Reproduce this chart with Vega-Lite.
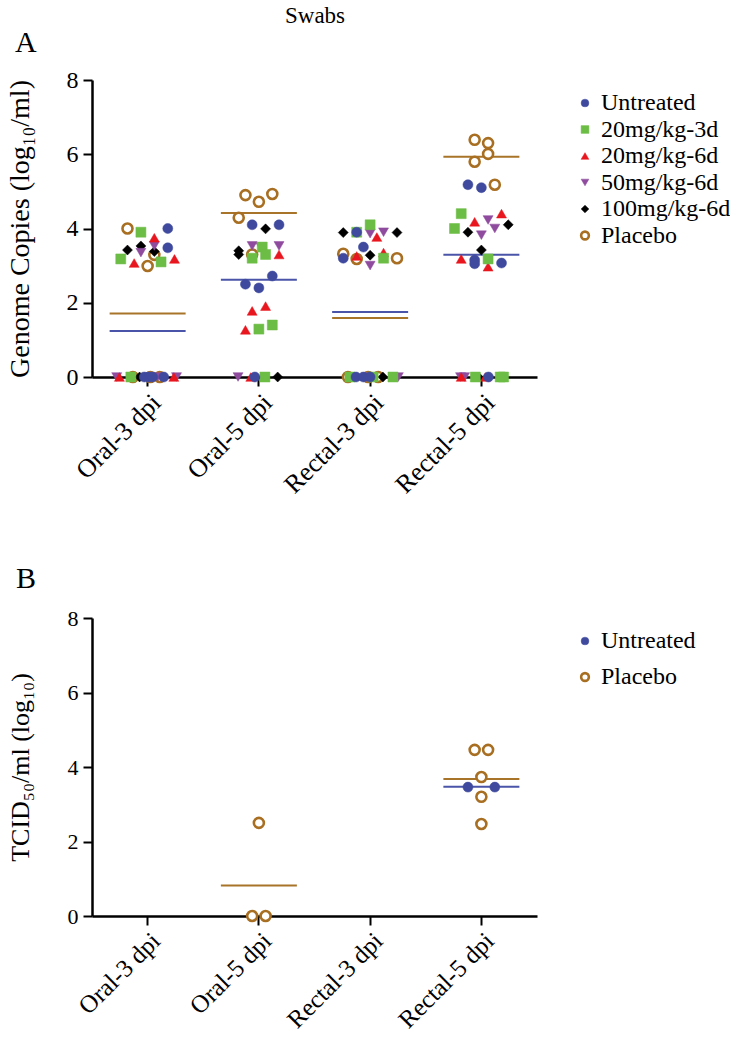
{
  "$schema": "https://vega.github.io/schema/vega-lite/v6.json",
  "config": {
    "font": "Liberation Serif",
    "view": {"stroke": null},
    "axis": {"labelFont": "Liberation Serif", "titleFont": "Liberation Serif", "domainColor": "black", "tickColor": "black", "labelColor": "black", "titleColor": "black", "grid": false, "titleFontWeight": "normal", "domainWidth": 2.5, "tickWidth": 2, "tickSize": 9},
    "legend": {"labelFont": "Liberation Serif", "labelColor": "black"},
    "title": {"font": "Liberation Serif", "fontWeight": "normal", "color": "black"}
  },
  "title": {"text": "Swabs", "fontSize": 23, "anchor": "start", "dx": 279, "offset": 0},
  "spacing": 66,
  "resolve": {
    "scale": {"shape": "independent", "fill": "independent", "stroke": "independent", "strokeWidth": "independent", "color": "independent"},
    "legend": {"shape": "independent", "fill": "independent", "stroke": "independent", "strokeWidth": "independent", "color": "independent"}
  },
  "datasets": {
    "a_points": [
      {"cat": "Oral-3 dpi", "group": "Placebo", "j": -3, "v": 4.0},
      {"cat": "Oral-3 dpi", "group": "Placebo", "j": 1, "v": 3.29},
      {"cat": "Oral-3 dpi", "group": "Placebo", "j": 0, "v": 2.99},
      {"cat": "Oral-3 dpi", "group": "Placebo", "j": -2.2, "v": 0},
      {"cat": "Oral-3 dpi", "group": "Placebo", "j": 1.8, "v": 0},
      {"cat": "Oral-3 dpi", "group": "Placebo", "j": 0.4, "v": 0},
      {"cat": "Oral-3 dpi", "group": "100mg/kg-6d", "j": -3, "v": 3.42},
      {"cat": "Oral-3 dpi", "group": "100mg/kg-6d", "j": -1, "v": 3.53},
      {"cat": "Oral-3 dpi", "group": "100mg/kg-6d", "j": 1, "v": 3.38},
      {"cat": "Oral-3 dpi", "group": "100mg/kg-6d", "j": -1.2, "v": 0},
      {"cat": "Oral-3 dpi", "group": "50mg/kg-6d", "j": -1, "v": 3.35},
      {"cat": "Oral-3 dpi", "group": "50mg/kg-6d", "j": 1, "v": 3.53},
      {"cat": "Oral-3 dpi", "group": "50mg/kg-6d", "j": -4.6, "v": 0},
      {"cat": "Oral-3 dpi", "group": "50mg/kg-6d", "j": 1.5, "v": 0},
      {"cat": "Oral-3 dpi", "group": "50mg/kg-6d", "j": 4.3, "v": 0},
      {"cat": "Oral-3 dpi", "group": "20mg/kg-6d", "j": 1, "v": 3.75},
      {"cat": "Oral-3 dpi", "group": "20mg/kg-6d", "j": -2, "v": 3.07},
      {"cat": "Oral-3 dpi", "group": "20mg/kg-6d", "j": 4, "v": 3.18},
      {"cat": "Oral-3 dpi", "group": "20mg/kg-6d", "j": -4.2, "v": 0},
      {"cat": "Oral-3 dpi", "group": "20mg/kg-6d", "j": 3.9, "v": 0},
      {"cat": "Oral-3 dpi", "group": "20mg/kg-3d", "j": -1, "v": 3.9},
      {"cat": "Oral-3 dpi", "group": "20mg/kg-3d", "j": -4, "v": 3.18},
      {"cat": "Oral-3 dpi", "group": "20mg/kg-3d", "j": 2, "v": 3.1},
      {"cat": "Oral-3 dpi", "group": "20mg/kg-3d", "j": -2.5, "v": 0},
      {"cat": "Oral-3 dpi", "group": "Untreated", "j": 3, "v": 4.0},
      {"cat": "Oral-3 dpi", "group": "Untreated", "j": 3, "v": 3.48},
      {"cat": "Oral-3 dpi", "group": "Untreated", "j": -0.5, "v": 0},
      {"cat": "Oral-3 dpi", "group": "Untreated", "j": 0.15, "v": 0},
      {"cat": "Oral-3 dpi", "group": "Untreated", "j": 0.75, "v": 0},
      {"cat": "Oral-3 dpi", "group": "Untreated", "j": 2.4, "v": 0},

      {"cat": "Oral-5 dpi", "group": "Placebo", "j": -2, "v": 4.9},
      {"cat": "Oral-5 dpi", "group": "Placebo", "j": 0, "v": 4.72},
      {"cat": "Oral-5 dpi", "group": "Placebo", "j": 2, "v": 4.93},
      {"cat": "Oral-5 dpi", "group": "Placebo", "j": -3, "v": 4.29},
      {"cat": "Oral-5 dpi", "group": "Placebo", "j": -1, "v": 3.3},
      {"cat": "Oral-5 dpi", "group": "100mg/kg-6d", "j": 1, "v": 3.99},
      {"cat": "Oral-5 dpi", "group": "100mg/kg-6d", "j": -3, "v": 3.4},
      {"cat": "Oral-5 dpi", "group": "100mg/kg-6d", "j": -3, "v": 3.3},
      {"cat": "Oral-5 dpi", "group": "100mg/kg-6d", "j": 2.8, "v": 0},
      {"cat": "Oral-5 dpi", "group": "50mg/kg-6d", "j": -1, "v": 3.53},
      {"cat": "Oral-5 dpi", "group": "50mg/kg-6d", "j": 3, "v": 3.53},
      {"cat": "Oral-5 dpi", "group": "50mg/kg-6d", "j": 0.3, "v": 3.5},
      {"cat": "Oral-5 dpi", "group": "50mg/kg-6d", "j": -3.1, "v": 0},
      {"cat": "Oral-5 dpi", "group": "20mg/kg-6d", "j": 3, "v": 3.3},
      {"cat": "Oral-5 dpi", "group": "20mg/kg-6d", "j": -1, "v": 1.78},
      {"cat": "Oral-5 dpi", "group": "20mg/kg-6d", "j": 1, "v": 1.91},
      {"cat": "Oral-5 dpi", "group": "20mg/kg-6d", "j": -2, "v": 1.27},
      {"cat": "Oral-5 dpi", "group": "20mg/kg-6d", "j": -1.2, "v": 0},
      {"cat": "Oral-5 dpi", "group": "20mg/kg-3d", "j": 0.5, "v": 3.5},
      {"cat": "Oral-5 dpi", "group": "20mg/kg-3d", "j": 1, "v": 3.3},
      {"cat": "Oral-5 dpi", "group": "20mg/kg-3d", "j": -1, "v": 3.2},
      {"cat": "Oral-5 dpi", "group": "20mg/kg-3d", "j": 0, "v": 1.29},
      {"cat": "Oral-5 dpi", "group": "20mg/kg-3d", "j": 2, "v": 1.4},
      {"cat": "Oral-5 dpi", "group": "20mg/kg-3d", "j": 0.9, "v": 0},
      {"cat": "Oral-5 dpi", "group": "Untreated", "j": -1, "v": 4.1},
      {"cat": "Oral-5 dpi", "group": "Untreated", "j": 3, "v": 4.1},
      {"cat": "Oral-5 dpi", "group": "Untreated", "j": 2, "v": 2.72},
      {"cat": "Oral-5 dpi", "group": "Untreated", "j": -2, "v": 2.5},
      {"cat": "Oral-5 dpi", "group": "Untreated", "j": 0, "v": 2.4},
      {"cat": "Oral-5 dpi", "group": "Untreated", "j": -0.6, "v": 0},

      {"cat": "Rectal-3 dpi", "group": "Placebo", "j": -4, "v": 3.32},
      {"cat": "Rectal-3 dpi", "group": "Placebo", "j": -2, "v": 3.18},
      {"cat": "Rectal-3 dpi", "group": "Placebo", "j": 4, "v": 3.2},
      {"cat": "Rectal-3 dpi", "group": "Placebo", "j": -3.3, "v": 0},
      {"cat": "Rectal-3 dpi", "group": "Placebo", "j": 1.2, "v": 0},
      {"cat": "Rectal-3 dpi", "group": "Placebo", "j": -0.3, "v": 0},
      {"cat": "Rectal-3 dpi", "group": "100mg/kg-6d", "j": -4, "v": 3.89},
      {"cat": "Rectal-3 dpi", "group": "100mg/kg-6d", "j": 4, "v": 3.89},
      {"cat": "Rectal-3 dpi", "group": "100mg/kg-6d", "j": 0, "v": 3.28},
      {"cat": "Rectal-3 dpi", "group": "100mg/kg-6d", "j": 1.9, "v": 0},
      {"cat": "Rectal-3 dpi", "group": "50mg/kg-6d", "j": 0, "v": 3.86},
      {"cat": "Rectal-3 dpi", "group": "50mg/kg-6d", "j": 2, "v": 3.9},
      {"cat": "Rectal-3 dpi", "group": "50mg/kg-6d", "j": 0, "v": 3.0},
      {"cat": "Rectal-3 dpi", "group": "50mg/kg-6d", "j": -0.5, "v": 0},
      {"cat": "Rectal-3 dpi", "group": "50mg/kg-6d", "j": 4.2, "v": 0},
      {"cat": "Rectal-3 dpi", "group": "20mg/kg-6d", "j": 1, "v": 3.77},
      {"cat": "Rectal-3 dpi", "group": "20mg/kg-6d", "j": -2, "v": 3.26},
      {"cat": "Rectal-3 dpi", "group": "20mg/kg-6d", "j": 2, "v": 3.35},
      {"cat": "Rectal-3 dpi", "group": "20mg/kg-3d", "j": -2, "v": 3.9},
      {"cat": "Rectal-3 dpi", "group": "20mg/kg-3d", "j": 0, "v": 4.1},
      {"cat": "Rectal-3 dpi", "group": "20mg/kg-3d", "j": 2, "v": 3.2},
      {"cat": "Rectal-3 dpi", "group": "20mg/kg-3d", "j": -3, "v": 0},
      {"cat": "Rectal-3 dpi", "group": "20mg/kg-3d", "j": 0.45, "v": 0},
      {"cat": "Rectal-3 dpi", "group": "20mg/kg-3d", "j": 3.4, "v": 0},
      {"cat": "Rectal-3 dpi", "group": "Untreated", "j": -2, "v": 3.9},
      {"cat": "Rectal-3 dpi", "group": "Untreated", "j": -1, "v": 3.5},
      {"cat": "Rectal-3 dpi", "group": "Untreated", "j": -4, "v": 3.2},
      {"cat": "Rectal-3 dpi", "group": "Untreated", "j": -2.1, "v": 0},
      {"cat": "Rectal-3 dpi", "group": "Untreated", "j": -1, "v": 0},
      {"cat": "Rectal-3 dpi", "group": "Untreated", "j": 0, "v": 0},

      {"cat": "Rectal-5 dpi", "group": "Placebo", "j": -1, "v": 6.39},
      {"cat": "Rectal-5 dpi", "group": "Placebo", "j": 1, "v": 6.3},
      {"cat": "Rectal-5 dpi", "group": "Placebo", "j": 1, "v": 6.01},
      {"cat": "Rectal-5 dpi", "group": "Placebo", "j": -1, "v": 5.8},
      {"cat": "Rectal-5 dpi", "group": "Placebo", "j": 2, "v": 5.18},
      {"cat": "Rectal-5 dpi", "group": "100mg/kg-6d", "j": -2, "v": 3.9},
      {"cat": "Rectal-5 dpi", "group": "100mg/kg-6d", "j": 4, "v": 4.1},
      {"cat": "Rectal-5 dpi", "group": "100mg/kg-6d", "j": 0, "v": 3.42},
      {"cat": "Rectal-5 dpi", "group": "100mg/kg-6d", "j": -0.45, "v": 0},
      {"cat": "Rectal-5 dpi", "group": "50mg/kg-6d", "j": 1, "v": 4.23},
      {"cat": "Rectal-5 dpi", "group": "50mg/kg-6d", "j": 2, "v": 4.0},
      {"cat": "Rectal-5 dpi", "group": "50mg/kg-6d", "j": 0, "v": 3.82},
      {"cat": "Rectal-5 dpi", "group": "50mg/kg-6d", "j": -3.1, "v": 0},
      {"cat": "Rectal-5 dpi", "group": "50mg/kg-6d", "j": -2.5, "v": 0},
      {"cat": "Rectal-5 dpi", "group": "20mg/kg-6d", "j": -1, "v": 4.18},
      {"cat": "Rectal-5 dpi", "group": "20mg/kg-6d", "j": 3, "v": 4.4},
      {"cat": "Rectal-5 dpi", "group": "20mg/kg-6d", "j": -3, "v": 3.18},
      {"cat": "Rectal-5 dpi", "group": "20mg/kg-6d", "j": 1, "v": 2.97},
      {"cat": "Rectal-5 dpi", "group": "20mg/kg-6d", "j": -3, "v": 0},
      {"cat": "Rectal-5 dpi", "group": "20mg/kg-6d", "j": 0.6, "v": 0},
      {"cat": "Rectal-5 dpi", "group": "20mg/kg-3d", "j": -3, "v": 4.4},
      {"cat": "Rectal-5 dpi", "group": "20mg/kg-3d", "j": -4, "v": 4.0},
      {"cat": "Rectal-5 dpi", "group": "20mg/kg-3d", "j": 1, "v": 3.18},
      {"cat": "Rectal-5 dpi", "group": "20mg/kg-3d", "j": -0.9, "v": 0},
      {"cat": "Rectal-5 dpi", "group": "20mg/kg-3d", "j": 2.8, "v": 0},
      {"cat": "Rectal-5 dpi", "group": "20mg/kg-3d", "j": 3.3, "v": 0},
      {"cat": "Rectal-5 dpi", "group": "Untreated", "j": -2, "v": 5.18},
      {"cat": "Rectal-5 dpi", "group": "Untreated", "j": 0, "v": 5.1},
      {"cat": "Rectal-5 dpi", "group": "Untreated", "j": -1, "v": 3.15},
      {"cat": "Rectal-5 dpi", "group": "Untreated", "j": -1, "v": 3.05},
      {"cat": "Rectal-5 dpi", "group": "Untreated", "j": 3, "v": 3.07},
      {"cat": "Rectal-5 dpi", "group": "Untreated", "j": 1.05, "v": 0}
    ],
    "a_means": [
      {"cat": "Oral-3 dpi", "group": "Untreated", "v": 1.24},
      {"cat": "Oral-3 dpi", "group": "Placebo", "v": 1.71},
      {"cat": "Oral-5 dpi", "group": "Untreated", "v": 2.62},
      {"cat": "Oral-5 dpi", "group": "Placebo", "v": 4.42},
      {"cat": "Rectal-3 dpi", "group": "Untreated", "v": 1.75},
      {"cat": "Rectal-3 dpi", "group": "Placebo", "v": 1.59},
      {"cat": "Rectal-5 dpi", "group": "Untreated", "v": 3.29},
      {"cat": "Rectal-5 dpi", "group": "Placebo", "v": 5.93}
    ],
    "b_points": [
      {"cat": "Oral-5 dpi", "group": "Placebo", "j": 0, "v": 2.5},
      {"cat": "Oral-5 dpi", "group": "Placebo", "j": -1, "v": 0},
      {"cat": "Oral-5 dpi", "group": "Placebo", "j": 1, "v": 0},
      {"cat": "Rectal-5 dpi", "group": "Placebo", "j": -1, "v": 4.46},
      {"cat": "Rectal-5 dpi", "group": "Placebo", "j": 1, "v": 4.46},
      {"cat": "Rectal-5 dpi", "group": "Placebo", "j": 0, "v": 3.73},
      {"cat": "Rectal-5 dpi", "group": "Placebo", "j": 0, "v": 3.2},
      {"cat": "Rectal-5 dpi", "group": "Placebo", "j": 0, "v": 2.47},
      {"cat": "Rectal-5 dpi", "group": "Untreated", "j": -2, "v": 3.46},
      {"cat": "Rectal-5 dpi", "group": "Untreated", "j": 2, "v": 3.46}
    ],
    "b_means": [
      {"cat": "Oral-5 dpi", "group": "Placebo", "v": 0.82},
      {"cat": "Rectal-5 dpi", "group": "Untreated", "v": 3.47},
      {"cat": "Rectal-5 dpi", "group": "Placebo", "v": 3.68}
    ]
  },
  "vconcat": [
    {
      "width": 445,
      "height": 297,
      "title": {"text": "A", "fontSize": 30, "anchor": "start", "dx": 9, "offset": 10},
      "layer": [
        {
          "data": {"name": "a_means"},
          "mark": {"type": "tick", "size": 76, "thickness": 2, "opacity": 1},
          "encoding": {
            "x": {"field": "cat", "type": "nominal", "scale": {"type": "band", "domain": ["Oral-3 dpi", "Oral-5 dpi", "Rectal-3 dpi", "Rectal-5 dpi"], "paddingInner": 0, "paddingOuter": 0},
              "axis": {"title": null, "labelAngle": -45, "labelAlign": "right", "labelBaseline": "top", "labelFontSize": 26, "labelPadding": 3}},
            "y": {"field": "v", "type": "quantitative", "scale": {"domain": [0, 8], "nice": false},
              "axis": {"title": "Genome Copies (log₁₀/ml)", "values": [0, 2, 4, 6, 8], "labelFontSize": 24, "titleFontSize": 28, "titlePadding": 32, "labelPadding": 5}},
            "color": {"field": "group", "type": "nominal", "scale": {"domain": ["Placebo", "Untreated"], "range": ["#A8742A", "#4A54A8"]}, "legend": null}
          }
        },
        {
          "data": {"name": "a_points"},
          "mark": {"type": "point", "size": 100, "opacity": 1},
          "encoding": {
            "x": {"field": "cat", "type": "nominal"},
            "xOffset": {"field": "j", "type": "quantitative", "scale": {"domain": [-8.28, 8.28]}},
            "y": {"field": "v", "type": "quantitative"},
            "shape": {"field": "group", "type": "nominal", "scale": {"domain": ["Untreated", "20mg/kg-3d", "20mg/kg-6d", "50mg/kg-6d", "100mg/kg-6d", "Placebo"], "range": ["circle", "square", "triangle-up", "triangle-down", "diamond", "circle"]},
              "legend": {"title": null, "labelFontSize": 24, "symbolSize": 60, "rowPadding": 2.5, "padding": 11, "offset": 25, "labelOffset": 4}},
            "fill": {"field": "group", "type": "nominal", "scale": {"domain": ["Untreated", "20mg/kg-3d", "20mg/kg-6d", "50mg/kg-6d", "100mg/kg-6d", "Placebo"], "range": ["#3F4A9E", "#6CBD45", "#E8161E", "#8F4B9E", "#000000", "#FFFFFF"]},
              "legend": {"title": null, "labelFontSize": 24, "symbolSize": 60, "rowPadding": 2.5, "padding": 11, "offset": 25, "labelOffset": 4}},
            "stroke": {"field": "group", "type": "nominal", "scale": {"domain": ["Untreated", "20mg/kg-3d", "20mg/kg-6d", "50mg/kg-6d", "100mg/kg-6d", "Placebo"], "range": ["#3F4A9E", "#6CBD45", "#E8161E", "#8F4B9E", "#000000", "#A86F22"]},
              "legend": {"title": null, "labelFontSize": 24, "symbolSize": 60, "rowPadding": 2.5, "padding": 11, "offset": 25, "labelOffset": 4}},
            "strokeWidth": {"field": "group", "type": "nominal", "scale": {"type": "ordinal", "domain": ["Untreated", "20mg/kg-3d", "20mg/kg-6d", "50mg/kg-6d", "100mg/kg-6d", "Placebo"], "range": [0.5, 0.5, 0.5, 0.5, 0.5, 2.6]},
              "legend": {"title": null, "labelFontSize": 24, "symbolSize": 60, "rowPadding": 2.5, "padding": 11, "offset": 25, "labelOffset": 4}}
          }
        }
      ]
    },
    {
      "width": 445,
      "height": 298,
      "title": {"text": "B", "fontSize": 30, "anchor": "start", "dx": 9, "offset": 13},
      "layer": [
        {
          "data": {"name": "b_means"},
          "mark": {"type": "tick", "size": 76, "thickness": 2, "opacity": 1},
          "encoding": {
            "x": {"field": "cat", "type": "nominal", "scale": {"type": "band", "domain": ["Oral-3 dpi", "Oral-5 dpi", "Rectal-3 dpi", "Rectal-5 dpi"], "paddingInner": 0, "paddingOuter": 0},
              "axis": {"title": null, "labelAngle": -45, "labelAlign": "right", "labelBaseline": "top", "labelFontSize": 25, "labelPadding": 3}},
            "y": {"field": "v", "type": "quantitative", "scale": {"domain": [0, 8], "nice": false},
              "axis": {"title": "TCID₅₀/ml (log₁₀)", "values": [0, 2, 4, 6, 8], "labelFontSize": 22, "titleFontSize": 26, "titlePadding": 34, "labelPadding": 5}},
            "color": {"field": "group", "type": "nominal", "scale": {"domain": ["Placebo", "Untreated"], "range": ["#A8742A", "#4A54A8"]}, "legend": null}
          }
        },
        {
          "data": {"name": "b_points"},
          "mark": {"type": "point", "size": 100, "opacity": 1},
          "encoding": {
            "x": {"field": "cat", "type": "nominal"},
            "xOffset": {"field": "j", "type": "quantitative", "scale": {"domain": [-8.28, 8.28]}},
            "y": {"field": "v", "type": "quantitative"},
            "shape": {"field": "group", "type": "nominal", "scale": {"domain": ["Untreated", "Placebo"], "range": ["circle", "circle"]},
              "legend": {"title": null, "labelFontSize": 24, "symbolSize": 60, "rowPadding": 12, "padding": 11, "offset": 25, "labelOffset": 4}},
            "fill": {"field": "group", "type": "nominal", "scale": {"domain": ["Untreated", "Placebo"], "range": ["#3F4A9E", "#FFFFFF"]},
              "legend": {"title": null, "labelFontSize": 24, "symbolSize": 60, "rowPadding": 12, "padding": 11, "offset": 25, "labelOffset": 4}},
            "stroke": {"field": "group", "type": "nominal", "scale": {"domain": ["Untreated", "Placebo"], "range": ["#3F4A9E", "#A86F22"]},
              "legend": {"title": null, "labelFontSize": 24, "symbolSize": 60, "rowPadding": 12, "padding": 11, "offset": 25, "labelOffset": 4}},
            "strokeWidth": {"field": "group", "type": "nominal", "scale": {"type": "ordinal", "domain": ["Untreated", "Placebo"], "range": [0.5, 2.6]},
              "legend": {"title": null, "labelFontSize": 24, "symbolSize": 60, "rowPadding": 12, "padding": 11, "offset": 25, "labelOffset": 4}}
          }
        }
      ]
    }
  ]
}
